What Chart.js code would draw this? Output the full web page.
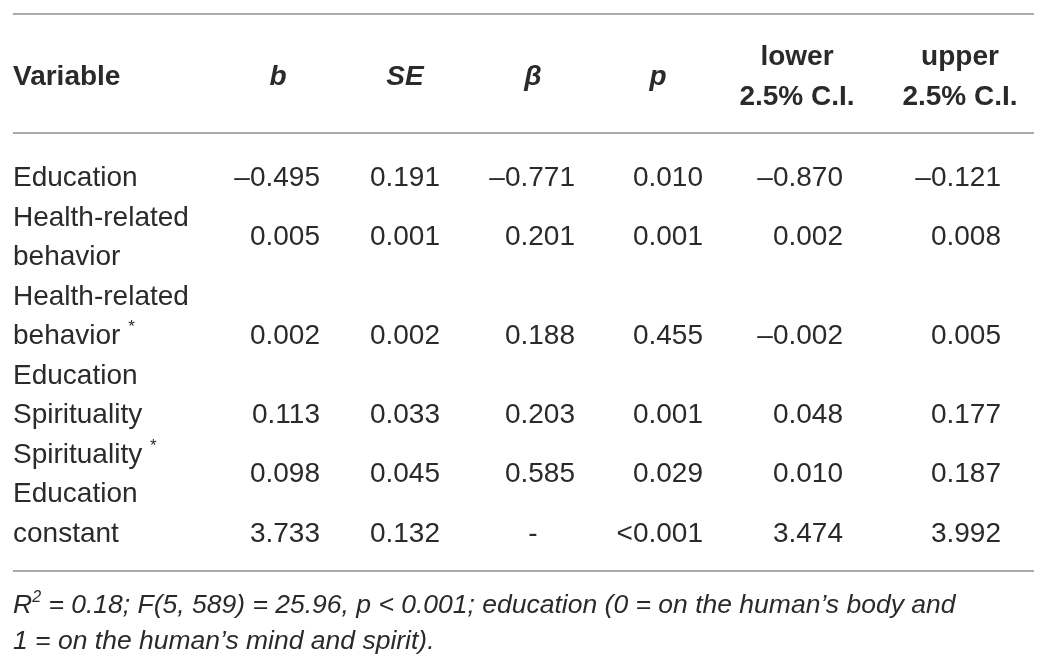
<!DOCTYPE html>
<html>
<head>
<meta charset="utf-8">
<title>Moderated regression table</title>
<script src="https://cdn.jsdelivr.net/npm/chart.js@4.4.0/dist/chart.umd.min.js"></script>
<style>
  html, body { margin: 0; padding: 0; background: #fff; }
  #wrap { width: 1047px; height: 667px; }
</style>
</head>
<body>
<div id="wrap"><canvas id="regTable"></canvas></div>
<script>
// Table content
const headers = [['Variable'], ['b'], ['SE'], ['β'], ['p'], ['lower', '2.5% C.I.'], ['upper', '2.5% C.I.']];
const variables = [
    ['Education'],
    ['Health-related', 'behavior'],
    ['Health-related', 'behavior ^*', 'Education'],
    ['Spirituality'],
    ['Spirituality ^*', 'Education'],
    ['constant']
];
const bValues     = ['–0.495', '0.005', '0.002', '0.113', '0.098', '3.733'];
const seValues    = ['0.191', '0.001', '0.002', '0.033', '0.045', '0.132'];
const betaValues  = ['–0.771', '0.201', '0.188', '0.203', '0.585', '-'];
const pValues     = ['0.010', '0.001', '0.455', '0.001', '0.029', '<0.001'];
const lowerValues = ['–0.870', '0.002', '–0.002', '0.048', '0.010', '3.474'];
const upperValues = ['–0.121', '0.008', '0.005', '0.177', '0.187', '3.992'];
const footnote = [
    'R^2 = 0.18; F(5, 589) = 25.96, p < 0.001; education (0 = on the human’s body and',
    '1 = on the human’s mind and spirit).'
];

// Layout: x in pixels, y in text lines (line 0 = first body line)
const FONT = '"Liberation Sans", Arial, sans-serif';
const BODY_SIZE = 28;
const NOTE_SIZE = 26.5;
const LINE_PX = 39.5;
const FIRST_LINE_PX = 176;
const TABLE_LEFT = 13, TABLE_RIGHT = 1034;
const COL_CENTER = [13, 278, 405, 533, 658, 797, 960];
const COL_RIGHT = [13, 320, 440, 575, 703, 843, 1001];
const HEADER_STYLE = ['bold', 'italic bold', 'italic bold', 'italic bold', 'italic bold', 'bold', 'bold'];
const HEADER_MID = -2.56, HEADER_STEP = 1.01;
const RULES = [-4.1, -1.09, 10.0];
const NOTE_FIRST = 10.82, NOTE_STEP = 0.92;
const TEXT_COLOR = '#2a2a2a';
const RULE_COLOR = '#8f8f8f';

// Header cells
const headerPoints = [];
headers.forEach((lines, c) => {
    lines.forEach((t, i) => {
        headerPoints.push({
            x: COL_CENTER[c],
            y: HEADER_MID + (i - (lines.length - 1) / 2) * HEADER_STEP,
            text: t,
            align: c === 0 ? 'left' : 'center',
            style: HEADER_STYLE[c]
        });
    });
});

// Variable label lines, and the centre line of each row
const labelPoints = [];
const rowCenters = [];
let line = 0;
variables.forEach(lines => {
    rowCenters.push(line + (lines.length - 1) / 2);
    lines.forEach(t => {
        labelPoints.push({ x: COL_CENTER[0], y: line, text: t, align: 'left' });
        line++;
    });
});

// Numeric columns
const valueColumns = [bValues, seValues, betaValues, pValues, lowerValues, upperValues];
const valueDatasets = valueColumns.map((vals, k) => {
    const c = k + 1;
    return {
        label: headers[c].join(' '),
        data: vals.map((v, r) => v === '-'
            ? { x: COL_CENTER[c], y: rowCenters[r], text: v, align: 'center' }
            : { x: COL_RIGHT[c], y: rowCenters[r], text: v, align: 'right' }),
        textSize: BODY_SIZE
    };
});

const notePoints = footnote.map((t, i) => ({
    x: TABLE_LEFT, y: NOTE_FIRST + i * NOTE_STEP, text: t, align: 'left', style: 'italic'
}));

// split "abc ^x def" into normal / superscript runs
function segments(text) {
    const out = [];
    const re = /\^(\S)/g;
    let last = 0, m;
    while ((m = re.exec(text))) {
        if (m.index > last) out.push({ t: text.slice(last, m.index) });
        out.push({ t: m[1], sup: true });
        last = re.lastIndex;
    }
    if (last < text.length) out.push({ t: text.slice(last) });
    return out;
}

function drawCell(ctx, d, px, py, size) {
    const style = d.style || 'normal';
    const supSize = Math.round(size * 0.6);
    const segs = segments(d.text);
    let total = 0;
    segs.forEach(s => {
        ctx.font = style + ' ' + (s.sup ? supSize : size) + 'px ' + FONT;
        s.w = ctx.measureText(s.t).width;
        total += s.w;
    });
    let x = px;
    if (d.align === 'right') x = px - total;
    else if (d.align === 'center') x = px - total / 2;
    const base = py + size * 0.36;
    segs.forEach(s => {
        ctx.font = style + ' ' + (s.sup ? supSize : size) + 'px ' + FONT;
        ctx.fillText(s.t, x, s.sup ? base - size * 0.42 : base);
        x += s.w;
    });
}

const tablePlugin = {
    id: 'tableText',
    afterDatasetsDraw(chart) {
        const ctx = chart.ctx;
        const xs = chart.scales.x, ys = chart.scales.y;
        ctx.save();
        // horizontal rules
        ctx.strokeStyle = RULE_COLOR;
        ctx.lineWidth = 1.5;
        RULES.forEach(r => {
            const y = ys.getPixelForValue(r);
            ctx.beginPath();
            ctx.moveTo(xs.getPixelForValue(TABLE_LEFT), y);
            ctx.lineTo(xs.getPixelForValue(TABLE_RIGHT), y);
            ctx.stroke();
        });
        // cell text at each point the scales placed
        ctx.fillStyle = TEXT_COLOR;
        ctx.textBaseline = 'alphabetic';
        ctx.textAlign = 'left';
        chart.data.datasets.forEach((ds, i) => {
            const meta = chart.getDatasetMeta(i);
            meta.data.forEach((pt, j) => drawCell(ctx, ds.data[j], pt.x, pt.y, ds.textSize));
        });
        ctx.restore();
    }
};

new Chart(document.getElementById('regTable'), {
    type: 'scatter',
    data: {
        datasets: [
            { label: 'header', data: headerPoints, textSize: BODY_SIZE },
            { label: 'Variable', data: labelPoints, textSize: BODY_SIZE },
            ...valueDatasets,
            { label: 'note', data: notePoints, textSize: NOTE_SIZE }
        ]
    },
    options: {
        responsive: true,
        maintainAspectRatio: false,
        animation: false,
        layout: { padding: 0 },
        elements: { point: { radius: 0, hoverRadius: 0 } },
        scales: {
            x: { type: 'linear', min: 0, max: 1047, display: false },
            y: {
                type: 'linear',
                reverse: true,
                min: -FIRST_LINE_PX / LINE_PX,
                max: (667 - FIRST_LINE_PX) / LINE_PX,
                display: false
            }
        },
        plugins: {
            legend: { display: false },
            tooltip: { enabled: false }
        }
    },
    plugins: [tablePlugin]
});
</script>
</body>
</html>
